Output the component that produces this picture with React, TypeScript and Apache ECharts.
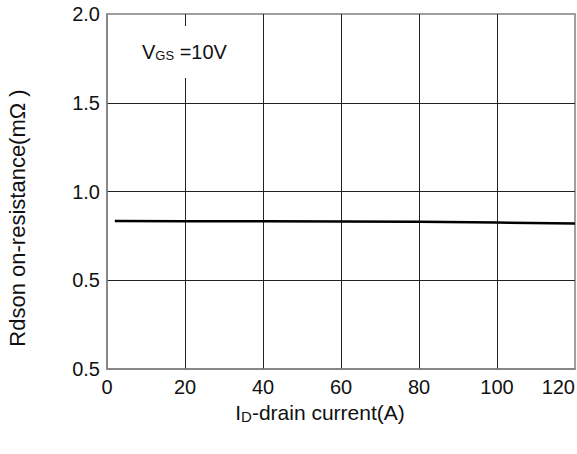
import React, { useEffect, useRef } from "react";
import * as echarts from "echarts";

const currentA = [2, 20, 40, 60, 80, 100, 120];
const rdson = [0.834, 0.833, 0.832, 0.831, 0.829, 0.825, 0.82];
const yTickLabels: Record<string, string> = { "0": "0.5", "0.5": "0.5", "1": "1.0", "1.5": "1.5", "2": "2.0" };
const xTicks = [0, 20, 40, 60, 80, 100, 120];

const FONT = "Arial, 'Liberation Sans', Helvetica, sans-serif";

export default function App() {
  const ref = useRef<HTMLDivElement>(null);
  useEffect(() => {
    if (!ref.current) return;
    const chart = echarts.init(ref.current, null, { renderer: "svg" });
    chart.setOption({
      animation: false,
      backgroundColor: "#fff",
      grid: {
        left: 107,
        right: 2,
        top: 14,
        bottom: 85,
        show: true,
        borderColor: "#808080",
        borderWidth: 1.5,
        outerBoundsMode: "none",
        containLabel: false,
      },
      xAxis: {
        type: "value",
        min: 0,
        max: 120,
        interval: 20,
        axisLine: { show: true, lineStyle: { color: "#808080", width: 1.5 } },
        axisTick: { show: false },
        axisLabel: {
          color: "#111",
          fontSize: 20,
          fontFamily: FONT,
          margin: 8,
          alignMaxLabel: "right",
          formatter: (v: number) => (xTicks.includes(v) ? String(v) : ""),
        },
        splitLine: { show: true, showMinLine: false, showMaxLine: false, lineStyle: { color: "#222", width: 1 } },
      },
      yAxis: {
        type: "value",
        min: 0,
        max: 2,
        interval: 0.5,
        axisLine: { show: true, lineStyle: { color: "#808080", width: 1.5 } },
        axisTick: { show: false },
        axisLabel: {
          color: "#111",
          fontSize: 20,
          fontFamily: FONT,
          margin: 7,
          formatter: (v: number) => yTickLabels[String(v)] ?? "",
        },
        splitLine: { show: true, showMinLine: false, showMaxLine: false, lineStyle: { color: "#222", width: 1 } },
      },
      series: [
        {
          type: "line",
          data: currentA.map((x, i) => [x, rdson[i]]),
          showSymbol: false,
          lineStyle: { color: "#000", width: 2.5 },
          smooth: false,
        },
      ],
      graphic: [
        {
          type: "text",
          left: 140,
          top: 26,
          z: 100,
          style: {
            text: "{v|V}{s|GS}{v| =10V}",
            backgroundColor: "#fff",
            padding: [16, 4, 16, 2],
            rich: {
              v: { fontSize: 20, fontFamily: FONT, fill: "#111", color: "#111" },
              s: { fontSize: 13, fontFamily: FONT, fill: "#111", color: "#111", padding: [6, 0, 0, 0] },
            },
          },
        },
        {
          type: "text",
          x: 17,
          y: 218,
          rotation: Math.PI / 2,
          style: {
            text: "Rdson on-resistance(mΩ )",
            fontSize: 22,
            fontFamily: FONT,
            fill: "#111",
            align: "center",
            verticalAlign: "middle",
          },
        },
        {
          type: "text",
          x: 320,
          y: 412,
          style: {
            text: "{v|I}{s|D}{v|-drain current(A)}",
            align: "center",
            verticalAlign: "middle",
            rich: {
              v: { fontSize: 21, fontFamily: FONT, fill: "#111", color: "#111" },
              s: { fontSize: 15, fontFamily: FONT, fill: "#111", color: "#111", padding: [9, 0, 0, 0] },
            },
          },
        },
      ],
    });
    return () => chart.dispose();
  }, []);
  return <div ref={ref} style={{ width: 577, height: 454, position: "absolute", left: 0, top: 0 }} />;
}
